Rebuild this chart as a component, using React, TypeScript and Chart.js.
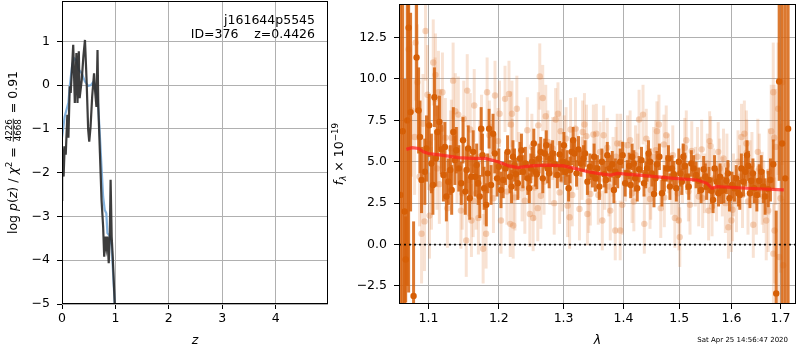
import React, { useEffect, useRef } from "react";
import { Chart, registerables } from "chart.js";

Chart.register(...registerables);

// ---------------- Left panel: log p(z) ----------------
const Z_VALUES = [0, 0.003, 0.03, 0.05, 0.07, 0.1, 0.12, 0.145, 0.163, 0.21, 0.24, 0.27, 0.29, 0.315, 0.33, 0.37, 0.4, 0.43, 0.46, 0.49, 0.51, 0.535, 0.565, 0.6, 0.62, 0.645, 0.665, 0.68, 0.71, 0.74, 0.77, 0.79, 0.81, 0.83, 0.85, 0.875, 0.895, 0.91, 0.93, 0.95, 0.99, 1.05];
const LOGPZ_VALUES = [-2.62, -1.4, -2.09, -1.4, -1.59, -0.68, -1.2, -0.03, -0.18, 0.92, -0.41, 0.73, -0.41, 0.77, -0.3, 0.12, 0.65, 1.03, 0.12, -1.02, -1.29, -0.95, -0.26, 0.27, -0.14, -0.5, 0.8, -0.5, -1.55, -2.62, -3.23, -3.92, -3.46, -3.69, -3.46, -4.07, -3.42, -2.16, -3.46, -3.92, -5.06, -6.5];
const Z_SMOOTH = [0, 0.05, 0.12, 0.145, 0.19, 0.23, 0.27, 0.315, 0.37, 0.43, 0.49, 0.54, 0.59, 0.63, 0.67, 0.7, 0.74, 0.77, 0.8, 0.83, 0.85, 0.895, 0.93, 0.99, 1.05];
const LOGPZ_SMOOTH = [-1.2, -0.72, -0.4, -0.03, 0.46, 0.61, 0.57, 0.35, 0.27, 0.08, -0.02, 0.0, 0.08, -0.1, -0.33, -0.95, -1.87, -2.55, -2.85, -2.93, -3.38, -3.45, -3.69, -5.06, -6.5];
const Z_RANGE = [0, 4.98];
const LOGPZ_RANGE = [-5, 1.92];
const Z_TICKS = [0, 1, 2, 3, 4];
const LOGPZ_TICKS = [-5, -4, -3, -2, -1, 0, 1];

// ---------------- Right panel: spectrum ----------------
// beam A (dark)
const WAVE_A = [1.0654, 1.068, 1.0694, 1.0733, 1.0759, 1.0799, 1.0839, 1.0866, 1.0906, 1.0973, 1.104, 1.1081, 1.1122, 1.1177, 1.1246, 1.1274, 1.1301, 1.1343, 1.1385, 1.1455, 1.1512, 1.1554, 1.1597, 1.1654, 1.1697, 1.174, 1.1783, 1.1815, 1.1856, 1.1914, 1.1973, 1.2032, 1.21, 1.2166, 1.2211, 1.2256, 1.2317, 1.2362, 1.2438, 1.2484, 1.253, 1.2576, 1.2638, 1.27, 1.2747, 1.2794, 1.2857, 1.2937, 1.2985, 1.303, 1.3081, 1.3129, 1.3177, 1.3242, 1.3324, 1.3389, 1.3472, 1.3521, 1.3588, 1.3672, 1.3722, 1.3807, 1.3858, 1.3943, 1.4029, 1.4098, 1.415, 1.4202, 1.4272, 1.436, 1.4413, 1.4467, 1.4538, 1.4591, 1.4682, 1.4772, 1.4827, 1.49, 1.4991, 1.5047, 1.5102, 1.5177, 1.527, 1.5364, 1.5459, 1.5516, 1.5611, 1.5669, 1.5746, 1.5804, 1.5901, 1.596, 1.6059, 1.6138, 1.6197, 1.6277, 1.6337, 1.6397, 1.6458, 1.6559, 1.6642, 1.6744, 1.6848, 1.691, 1.6972, 1.7035, 1.7161];
const FLUX_A = [6.84, 2.0, -0.9, 13.1, 8.0, -3.1, 11.3, 8.1, 3.9, 5.8, 4.9, 8.9, 6.8, 5.75, 2.9, 3.8, 4.5, 6.8, 5.7, 3.7, 3.2, 5.8, 4.1, 4.1, 3.7, 7.0, 3.4, 2.4, 7.0, 6.7, 4.0, 3.3, 4.6, 4.1, 5.3, 4.25, 5.2, 4.4, 4.0, 4.6, 6.1, 4.25, 5.6, 5.5, 4.6, 5.2, 4.85, 5.45, 5.0, 4.4, 3.4, 5.6, 5.5, 5.75, 5.2, 3.8, 4.25, 4.0, 3.5, 4.25, 5.4, 4.85, 4.4, 5.0, 3.7, 4.75, 5.3, 4.0, 4.55, 3.7, 4.6, 5.0, 3.05, 4.85, 3.1, 4.6, 3.5, 4.25, 5.0, 3.8, 4.75, 3.5, 4.6, 3.85, 4.55, 3.5, 3.25, 4.6, 3.1, 3.25, 3.85, 2.8, 3.4, 3.1, 4.6, 4.4, 4.75, 3.85, 3.4, 3.85, 3.5, 3.35, 4.85, -2.95, 9.85, 6.1, 7.0];
const ERR_A = [12, 8, 2.6, 16, 6, 4.5, 3.3, 2.6, 2.0, 2.0, 1.8, 1.8, 1.6, 1.5, 1.5, 1.4, 1.5, 1.5, 1.4, 1.3, 1.4, 1.4, 1.3, 1.2, 1.3, 1.3, 1.3, 1.3, 1.2, 1.2, 1.1, 1.1, 1.0, 1.0, 1.0, 1.0, 1.0, 1.0, 1.0, 0.9, 0.9, 0.9, 0.9, 0.9, 0.9, 0.9, 0.8, 0.8, 0.8, 0.8, 0.8, 0.8, 0.8, 0.8, 0.8, 0.8, 0.8, 0.8, 0.8, 0.8, 0.8, 0.8, 0.8, 0.8, 0.8, 0.8, 0.8, 0.8, 0.8, 0.8, 0.8, 0.8, 0.8, 0.8, 0.8, 0.8, 0.8, 0.8, 0.8, 0.8, 0.8, 0.8, 0.8, 0.8, 0.8, 0.8, 0.8, 0.8, 0.8, 0.8, 0.8, 0.8, 0.8, 0.8, 0.9, 0.9, 0.9, 0.9, 0.9, 1.0, 1.0, 1.1, 1.5, 5, 6, 12, 14];

// beam C (dark)
const WAVE_C = [1.0625, 1.0715, 1.0885, 1.095, 1.101, 1.106, 1.11, 1.115, 1.1205, 1.1225, 1.132, 1.1365, 1.142, 1.148, 1.153, 1.1575, 1.1625, 1.1675, 1.172, 1.176, 1.1835, 1.1885, 1.194, 1.2, 1.2065, 1.213, 1.219, 1.2235, 1.2285, 1.234, 1.24, 1.246, 1.2505, 1.2555, 1.261, 1.267, 1.2725, 1.277, 1.2825, 1.29, 1.296, 1.3005, 1.3055, 1.3105, 1.3155, 1.321, 1.328, 1.335, 1.343, 1.35, 1.3555, 1.363, 1.37, 1.3765, 1.3835, 1.39, 1.3985, 1.4065, 1.4125, 1.418, 1.424, 1.4315, 1.439, 1.444, 1.45, 1.4565, 1.4635, 1.4725, 1.48, 1.4865, 1.4945, 1.502, 1.5075, 1.514, 1.5225, 1.5315, 1.541, 1.549, 1.556, 1.564, 1.571, 1.5775, 1.585, 1.593, 1.601, 1.6095, 1.6165, 1.624, 1.631, 1.637, 1.643, 1.651, 1.66, 1.668, 1.679, 1.71];
const FLUX_C = [3.0, 7.5, 6.5, 4.4, 7.2, 3.6, 5.2, 7.4, 4.2, 5.9, 3.3, 5.1, 4.6, 6.3, 4.5, 2.8, 5.6, 4.8, 2.9, 5.4, 4.3, 3.6, 5.5, 4.7, 3.9, 5.6, 3.5, 4.8, 3.7, 5.7, 4.9, 3.4, 5.0, 4.4, 5.2, 4.0, 6.0, 4.3, 5.5, 4.2, 4.6, 6.0, 4.9, 4.5, 6.3, 4.3, 4.9, 5.5, 4.7, 5.3, 4.6, 5.0, 3.9, 4.6, 3.3, 4.2, 5.4, 4.3, 3.6, 4.9, 3.4, 5.1, 4.2, 5.5, 4.3, 4.0, 5.3, 4.0, 5.2, 4.6, 3.4, 4.3, 5.3, 4.1, 4.9, 4.2, 3.3, 4.1, 3.9, 2.7, 3.8, 4.1, 3.3, 4.3, 3.6, 4.0, 3.0, 3.8, 5.4, 3.1, 4.3, 3.0, 4.4, 2.9, 3.9, 4.0];
const ERR_C = [14, 10, 2.2, 2.0, 1.9, 1.8, 1.7, 1.6, 1.6, 1.5, 1.5, 1.5, 1.4, 1.4, 1.4, 1.3, 1.3, 1.3, 1.3, 1.3, 1.2, 1.2, 1.2, 1.1, 1.1, 1.0, 1.0, 1.0, 1.0, 1.0, 1.0, 0.9, 0.9, 0.9, 0.9, 0.9, 0.9, 0.9, 0.8, 0.8, 0.8, 0.8, 0.8, 0.8, 0.8, 0.8, 0.8, 0.8, 0.8, 0.8, 0.8, 0.8, 0.8, 0.8, 0.8, 0.8, 0.8, 0.8, 0.8, 0.8, 0.8, 0.8, 0.8, 0.8, 0.8, 0.8, 0.8, 0.8, 0.8, 0.8, 0.8, 0.8, 0.8, 0.8, 0.8, 0.8, 0.8, 0.8, 0.8, 0.8, 0.8, 0.8, 0.8, 0.8, 0.8, 0.8, 0.9, 0.9, 0.9, 0.9, 0.9, 1.0, 1.0, 1.1, 1.3, 12];

// beam B (light)
const WAVE_B = [1.0733, 1.0772, 1.0812, 1.0826, 1.0879, 1.0906, 1.0946, 1.096, 1.0986, 1.1014, 1.1041, 1.109, 1.1095, 1.1136, 1.1149, 1.1191, 1.1232, 1.1305, 1.1315, 1.1371, 1.1413, 1.145, 1.1469, 1.1526, 1.154, 1.1583, 1.16, 1.1625, 1.1668, 1.17, 1.1745, 1.1769, 1.1812, 1.1827, 1.188, 1.1943, 1.1988, 1.2032, 1.2092, 1.2151, 1.217, 1.2181, 1.2196, 1.2215, 1.2241, 1.23, 1.2392, 1.2469, 1.25, 1.2545, 1.2592, 1.2623, 1.264, 1.2669, 1.2716, 1.278, 1.2826, 1.2873, 1.2937, 1.2953, 1.301, 1.3065, 1.3097, 1.3113, 1.3193, 1.3258, 1.33, 1.334, 1.3373, 1.3389, 1.3438, 1.3488, 1.3537, 1.36, 1.3638, 1.368, 1.3722, 1.3773, 1.382, 1.3858, 1.3892, 1.3943, 1.395, 1.403, 1.4115, 1.415, 1.421, 1.4272, 1.4342, 1.4365, 1.442, 1.4467, 1.453, 1.4591, 1.4627, 1.4718, 1.4725, 1.48, 1.486, 1.4918, 1.4991, 1.5009, 1.506, 1.5102, 1.517, 1.5233, 1.53, 1.5364, 1.5421, 1.548, 1.5554, 1.5573, 1.5592, 1.565, 1.5707, 1.577, 1.5843, 1.588, 1.594, 1.5999, 1.604, 1.6098, 1.616, 1.622, 1.6257, 1.6297, 1.6305, 1.637, 1.6438, 1.65, 1.656, 1.662, 1.6703, 1.6744, 1.6806, 1.6848, 1.6852, 1.6869, 1.6875, 1.6972, 1.7035, 1.7056];
const FLUX_B = [11.8, 8.1, 6.5, 12.2, 4.1, 0.65, 1.4, 12.9, 9.05, 1.75, 3.4, 8.8, 10.25, 9.2, 3.65, 9.2, 6.45, 5.8, 6.45, 8.05, 7.85, 2.05, 3.1, 0.25, 9.3, 6.95, 1.45, 2.65, 3.1, 1.6, 6.95, -0.25, 0.65, 9.2, 5.2, 9.0, 6.25, 1.45, 8.8, 9.1, 1.25, 7.25, 7.9, 1.15, 2.85, 4.8, 2.65, 1.85, 5.9, 3.45, 2.2, 10.15, 2.95, 8.85, 7.75, 4.3, 5.8, 7.55, 3.15, 6.85, 5.9, 2.35, 1.65, 6.95, 7.0, 2.15, 4.6, 7.25, 6.55, 1.85, 3.05, 6.65, 6.7, 5.6, 1.45, 3.9, 5.85, 2.05, 4.7, 0.85, 6.1, 0.85, 6.1, 4.4, 6.3, 3.1, 5.4, 7.55, 7.85, 1.25, 4.2, 2.75, 5.3, 6.85, 7.25, 6.05, 2.85, 4.9, 3.6, 1.6, 1.45, 0.45, 4.3, 5.85, 3.2, 5.65, 4.1, 2.9, 5.75, 3.7, 2.05, 6.25, 5.95, 4.0, 3.2, 4.6, 5.2, 2.5, 1.05, 1.45, 3.6, 2.65, 4.1, 3.0, 6.7, 6.1, 5.55, 4.3, 1.2, 2.6, 4.6, 3.4, 1.45, 2.05, 6.85, 9.2, -0.55, 6.45, 0.85, -0.75, 9.8, -1.25];
const ERR_B = [4, 4, 3.5, 3.5, 3, 3, 3, 3, 3, 2.6, 2.5, 2.5, 2.5, 2.5, 2.4, 2.4, 2.4, 2.3, 2.3, 2.3, 2.3, 2.3, 2.2, 2.2, 2.2, 2.2, 2.2, 2.2, 2.2, 2.2, 2.1, 2.1, 2.1, 2.1, 2.1, 2.1, 2.0, 2.0, 2.0, 2.0, 2.0, 2.0, 2.0, 2.0, 2.0, 2.0, 2.0, 2.0, 2.0, 2.0, 2.0, 2.0, 2.0, 2.0, 1.9, 1.9, 1.9, 1.9, 1.9, 1.9, 1.9, 1.9, 1.9, 1.9, 1.9, 1.9, 1.9, 1.9, 1.9, 1.9, 1.9, 1.8, 1.8, 1.8, 1.8, 1.8, 1.8, 1.8, 1.8, 1.8, 1.8, 1.8, 1.8, 1.8, 1.8, 1.8, 1.8, 1.8, 1.8, 1.8, 1.8, 1.8, 1.8, 1.8, 1.8, 1.8, 1.8, 1.8, 1.8, 1.8, 1.8, 1.8, 1.8, 1.8, 1.8, 1.8, 1.8, 1.8, 1.8, 1.8, 1.8, 1.8, 1.8, 1.8, 1.8, 1.8, 1.8, 1.8, 1.9, 1.9, 1.9, 1.9, 1.9, 2.0, 2.0, 2.0, 2.0, 2.0, 2.0, 2.0, 2.1, 2.2, 2.4, 2.5, 2.8, 3.0, 3.0, 3.2, 3.2, 4, 5, 4];

// beam D (light)
const WAVE_D = [1.085, 1.0925, 1.1, 1.1065, 1.1115, 1.117, 1.126, 1.134, 1.1395, 1.149, 1.156, 1.164, 1.172, 1.179, 1.186, 1.192, 1.201, 1.212, 1.22, 1.227, 1.235, 1.243, 1.252, 1.26, 1.269, 1.275, 1.285, 1.291, 1.298, 1.304, 1.314, 1.322, 1.331, 1.341, 1.351, 1.357, 1.366, 1.375, 1.387, 1.398, 1.407, 1.418, 1.425, 1.44, 1.448, 1.457, 1.466, 1.476, 1.488, 1.497, 1.513, 1.52, 1.534, 1.544, 1.553, 1.562, 1.574, 1.582, 1.591, 1.602, 1.613, 1.62, 1.633, 1.641, 1.653, 1.665, 1.676, 1.69, 1.695, 1.7];
const FLUX_D = [9.8, 7.3, 6.1, 11.0, 4.6, 7.0, 2.2, 9.9, 4.8, 7.6, 3.9, 8.4, 5.3, 3.3, 6.6, 2.8, 7.9, 3.2, 5.6, 8.2, 3.4, 6.9, 1.6, 7.2, 3.8, 6.2, 2.5, 7.9, 3.9, 6.4, 3.0, 5.2, 6.8, 2.6, 5.0, 3.0, 6.6, 3.5, 5.3, 2.4, 6.0, 2.6, 4.9, 6.4, 3.3, 5.7, 2.2, 6.6, 5.4, 3.1, 6.3, 2.4, 5.3, 2.8, 4.9, 2.3, 5.6, 3.5, 4.8, 2.1, 5.0, 6.5, 2.6, 4.8, 5.6, 2.9, 4.4, 5.9, 8.2, 2.8];
const ERR_D = [3.5, 3, 2.8, 2.6, 2.5, 2.4, 2.4, 2.3, 2.3, 2.3, 2.2, 2.2, 2.2, 2.1, 2.1, 2.1, 2.0, 2.0, 2.0, 2.0, 2.0, 2.0, 2.0, 2.0, 2.0, 1.9, 1.9, 1.9, 1.9, 1.9, 1.9, 1.9, 1.9, 1.9, 1.8, 1.8, 1.8, 1.8, 1.8, 1.8, 1.8, 1.8, 1.8, 1.8, 1.8, 1.8, 1.8, 1.8, 1.8, 1.8, 1.8, 1.8, 1.8, 1.8, 1.8, 1.8, 1.8, 1.8, 1.9, 1.9, 1.9, 2.0, 2.0, 2.0, 2.0, 2.2, 2.6, 3.5, 4, 4.5];

// model
const WAVE_MODEL = [1.0703, 1.078, 1.0866, 1.093, 1.1, 1.1177, 1.1413, 1.16, 1.1799, 1.1989, 1.215, 1.2288, 1.2486, 1.2749, 1.3, 1.318, 1.34, 1.3559, 1.3777, 1.3896, 1.4418, 1.49, 1.5333, 1.5522, 1.5619, 1.5716, 1.6305, 1.707];
const FLUX_MODEL = [5.75, 5.85, 5.8, 5.6, 5.5, 5.4, 5.25, 5.2, 5.2, 5.0, 4.75, 4.65, 4.75, 4.8, 4.75, 4.6, 4.4, 4.3, 4.2, 4.3, 4.15, 4.0, 3.9, 3.7, 3.4, 3.5, 3.4, 3.3];

const WAVE_RANGE = [1.0606, 1.7329];
const FLUX_RANGE = [-3.59, 14.53];
const WAVE_TICKS = [1.1, 1.2, 1.3, 1.4, 1.5, 1.6, 1.7];
const FLUX_TICKS = [-2.5, 0, 2.5, 5, 7.5, 10, 12.5];

const OBJ_NAME = "j161644p5545";
const OBJ_INFO = "ID=376    z=0.4426";
const TIMESTAMP = "Sat Apr 25 14:56:47 2020";

// ---------------- helpers ----------------
const FONT = "DejaVu Sans";
const FS = 12.5;
const fontOf = (size: number, italic?: boolean) => `${italic ? "italic " : ""}${size}px "${FONT}"`;
const minus = (s: string) => s.replace("-", "\u2212");

type Seg = { t?: string; it?: boolean; s?: number; dy?: number; num?: string; den?: string };

function segWidth(ctx: CanvasRenderingContext2D, seg: Seg, size: number) {
  if (seg.num !== undefined) {
    ctx.font = fontOf(size * 0.7);
    return Math.max(ctx.measureText(seg.num).width, ctx.measureText(seg.den || "").width) + size * 0.3;
  }
  ctx.font = fontOf(size * (seg.s || 1), seg.it);
  return ctx.measureText(seg.t || "").width;
}

function drawMath(ctx: CanvasRenderingContext2D, segs: Seg[], size: number, ox: number, oy: number, rotated: boolean) {
  ctx.save();
  ctx.translate(ox, oy);
  if (rotated) ctx.rotate(-Math.PI / 2);
  ctx.fillStyle = "#000";
  ctx.textBaseline = "alphabetic";
  ctx.textAlign = "left";
  const widths = segs.map((s) => segWidth(ctx, s, size));
  const total = widths.reduce((a, b) => a + b, 0);
  let x = -total / 2;
  segs.forEach((s, i) => {
    const w = widths[i];
    if (s.num !== undefined) {
      ctx.font = fontOf(size * 0.7);
      ctx.textAlign = "center";
      ctx.fillText(s.num, x + w / 2, -size * 0.44);
      ctx.fillText(s.den || "", x + w / 2, size * 0.34);
      ctx.textAlign = "left";
      ctx.fillRect(x + size * 0.12, -size * 0.3 - 0.4, w - size * 0.24, 0.8);
    } else {
      ctx.font = fontOf(size * (s.s || 1), s.it);
      ctx.fillText(s.t || "", x, (s.dy || 0) * size);
    }
    x += w;
  });
  ctx.restore();
}

const errorBarPlugin = {
  id: "errorBars",
  beforeDatasetDraw(chart: any, args: any) {
    const ds = chart.data.datasets[args.index];
    if (!ds.errors) return;
    const { ctx, chartArea } = chart;
    const xs = chart.scales.x;
    const ys = chart.scales.y;
    ctx.save();
    ctx.beginPath();
    ctx.rect(chartArea.left, chartArea.top, chartArea.right - chartArea.left, chartArea.bottom - chartArea.top);
    ctx.clip();
    ctx.strokeStyle = ds.errorColor;
    ctx.lineWidth = ds.errorWidth;
    ctx.lineCap = "butt";
    ds.data.forEach((p: any, i: number) => {
      const e = ds.errors[i];
      const px = xs.getPixelForValue(p.x);
      ctx.beginPath();
      ctx.moveTo(px, ys.getPixelForValue(p.y - e));
      ctx.lineTo(px, ys.getPixelForValue(p.y + e));
      ctx.stroke();
    });
    ctx.restore();
  },
};

const framePlugin = {
  id: "frame",
  afterDatasetsDraw(chart: any) {
    const { ctx, chartArea } = chart;
    ctx.save();
    ctx.strokeStyle = "#000";
    ctx.lineWidth = 1;
    ctx.strokeRect(chartArea.left + 0.5, chartArea.top + 0.5, chartArea.right - chartArea.left - 1, chartArea.bottom - chartArea.top - 1);
    ctx.restore();
  },
};

function fixFit(w?: number, h?: number) {
  return (s: any) => {
    if (w !== undefined) s.width = w;
    if (h !== undefined) s.height = h;
    s.paddingLeft = 0;
    s.paddingRight = 0;
    s.paddingTop = 0;
    s.paddingBottom = 0;
  };
}

const gridOpts = { color: "#b0b0b0", lineWidth: 1, tickColor: "#000", tickLength: 5, drawTicks: true };
const tickFont = { family: FONT, size: FS };

function leftConfig(): any {
  const leftText = {
    id: "leftText",
    afterDraw(chart: any) {
      const { ctx, chartArea } = chart;
      drawMath(
        ctx,
        [
          { t: "log " },
          { t: "p", it: true },
          { t: "(" },
          { t: "z", it: true },
          { t: ") / " },
          { t: "\u03c7", it: true },
          { t: "2", s: 0.7, dy: -0.42 },
          { t: " = " },
          { num: "4226", den: "4668" },
          { t: " = 0.91" },
        ],
        FS,
        17,
        (chartArea.top + chartArea.bottom) / 2,
        true
      );
      drawMath(ctx, [{ t: "z", it: true }], FS, (chartArea.left + chartArea.right) / 2, 344, false);
      ctx.save();
      ctx.fillStyle = "#000";
      ctx.font = fontOf(FS);
      ctx.textAlign = "right";
      ctx.textBaseline = "alphabetic";
      ctx.fillText(OBJ_NAME, 315, 23.5);
      ctx.fillText(OBJ_INFO, 315, 37.5);
      ctx.restore();
    },
  };
  return {
    type: "scatter",
    data: {
      datasets: [
        {
          data: Z_VALUES.map((z, i) => ({ x: z, y: LOGPZ_VALUES[i] })),
          showLine: true,
          borderColor: "rgba(45,45,45,0.92)",
          borderWidth: 2.2,
          pointRadius: 0,
          order: 0,
        },
        {
          data: Z_SMOOTH.map((z, i) => ({ x: z, y: LOGPZ_SMOOTH[i] })),
          showLine: true,
          borderColor: "rgba(110,165,215,0.85)",
          borderWidth: 2.2,
          pointRadius: 0,
          order: 1,
        },
      ],
    },
    options: {
      animation: false,
      responsive: false,
      maintainAspectRatio: false,
      devicePixelRatio: 1,
      layout: { padding: { top: 1, right: 12, left: 0, bottom: 0 } },
      plugins: { legend: { display: false }, tooltip: { enabled: false } },
      scales: {
        x: {
          type: "linear",
          min: Z_RANGE[0],
          max: Z_RANGE[1],
          bounds: "data",
          afterBuildTicks: (s: any) => {
            s.ticks = Z_TICKS.map((v) => ({ value: v }));
          },
          afterFit: fixFit(undefined, 46),
          grid: gridOpts,
          border: { display: false },
          ticks: { color: "#000", font: tickFont, padding: 2, maxRotation: 0, autoSkip: false, callback: (v: any) => minus(String(v)) },
        },
        y: {
          type: "linear",
          min: LOGPZ_RANGE[0],
          max: LOGPZ_RANGE[1],
          bounds: "data",
          afterBuildTicks: (s: any) => {
            s.ticks = LOGPZ_TICKS.map((v) => ({ value: v }));
          },
          afterFit: fixFit(62, undefined),
          grid: gridOpts,
          border: { display: false },
          ticks: { color: "#000", font: tickFont, padding: 7, autoSkip: false, callback: (v: any) => minus(String(v)) },
        },
      },
    },
    plugins: [framePlugin, leftText],
  };
}

function beamDataset(waves: number[], flux: number[], errs: number[], dark: boolean, order: number) {
  return {
    data: waves.map((w, i) => ({ x: w, y: flux[i] })),
    errors: errs,
    errorColor: dark ? "rgba(214,98,12,0.85)" : "rgba(225,125,55,0.22)",
    errorWidth: 3,
    pointRadius: 3.2,
    pointBackgroundColor: dark ? "#d65f06" : "rgba(225,125,55,0.32)",
    pointBorderWidth: 0,
    order,
  };
}

function rightConfig(): any {
  const rightText = {
    id: "rightText",
    afterDraw(chart: any) {
      const { ctx, chartArea } = chart;
      drawMath(
        ctx,
        [
          { t: "f", it: true },
          { t: "\u03bb", it: true, s: 0.7, dy: 0.22 },
          { t: " \u00d7 10" },
          { t: "\u221219", s: 0.7, dy: -0.42 },
        ],
        FS,
        23,
        (chartArea.top + chartArea.bottom) / 2,
        true
      );
      drawMath(ctx, [{ t: "\u03bb", it: true }], FS, (chartArea.left + chartArea.right) / 2, 344, false);
      ctx.save();
      ctx.fillStyle = "#000";
      ctx.font = fontOf(7);
      ctx.textAlign = "right";
      ctx.textBaseline = "alphabetic";
      ctx.fillText(TIMESTAMP, 468, 341.5);
      ctx.restore();
    },
  };
  return {
    type: "scatter",
    data: {
      datasets: [
        {
          data: [
            { x: WAVE_RANGE[0], y: 0 },
            { x: WAVE_RANGE[1], y: 0 },
          ],
          showLine: true,
          borderColor: "rgba(0,0,0,0.9)",
          borderWidth: 1.8,
          borderDash: [2, 3],
          pointRadius: 0,
          order: 0,
        },
        {
          data: WAVE_MODEL.map((w, i) => ({ x: w, y: FLUX_MODEL[i] })),
          showLine: true,
          borderColor: "rgba(255,30,30,0.72)",
          borderWidth: 3.2,
          pointRadius: 0,
          order: 1,
        },
        beamDataset(WAVE_A, FLUX_A, ERR_A, true, 2),
        beamDataset(WAVE_C, FLUX_C, ERR_C, true, 3),
        beamDataset(WAVE_B, FLUX_B, ERR_B, false, 4),
        beamDataset(WAVE_D, FLUX_D, ERR_D, false, 5),
      ],
    },
    options: {
      animation: false,
      responsive: false,
      maintainAspectRatio: false,
      devicePixelRatio: 1,
      layout: { padding: { top: 1, right: 1, left: 0, bottom: 0 } },
      plugins: { legend: { display: false }, tooltip: { enabled: false } },
      scales: {
        x: {
          type: "logarithmic",
          min: WAVE_RANGE[0],
          max: WAVE_RANGE[1],
          bounds: "data",
          afterBuildTicks: (s: any) => {
            s.ticks = WAVE_TICKS.map((v) => ({ value: v }));
          },
          afterFit: fixFit(undefined, 46),
          grid: gridOpts,
          border: { display: false },
          ticks: { color: "#000", font: tickFont, padding: 2, maxRotation: 0, autoSkip: false, callback: (v: any) => Number(v).toFixed(1) },
        },
        y: {
          type: "linear",
          min: FLUX_RANGE[0],
          max: FLUX_RANGE[1],
          bounds: "data",
          afterBuildTicks: (s: any) => {
            s.ticks = FLUX_TICKS.map((v) => ({ value: v }));
          },
          afterFit: fixFit(79, undefined),
          grid: gridOpts,
          border: { display: false },
          ticks: { color: "#000", font: tickFont, padding: 7, autoSkip: false, callback: (v: any) => minus(Number(v).toFixed(1)) },
        },
      },
    },
    plugins: [errorBarPlugin, framePlugin, rightText],
  };
}

export default function App() {
  const leftRef = useRef<HTMLCanvasElement>(null);
  const rightRef = useRef<HTMLCanvasElement>(null);
  useEffect(() => {
    const left = new Chart(leftRef.current as HTMLCanvasElement, leftConfig());
    const right = new Chart(rightRef.current as HTMLCanvasElement, rightConfig());
    return () => {
      left.destroy();
      right.destroy();
    };
  }, []);
  return (
    <div style={{ position: "fixed", left: 0, top: 0, width: 800, height: 350, background: "#fff" }}>
      <canvas ref={leftRef} width={340} height={350} style={{ position: "absolute", left: 0, top: 0, width: 340, height: 350 }} />
      <canvas ref={rightRef} width={480} height={350} style={{ position: "absolute", left: 320, top: 0, width: 480, height: 350 }} />
    </div>
  );
}
